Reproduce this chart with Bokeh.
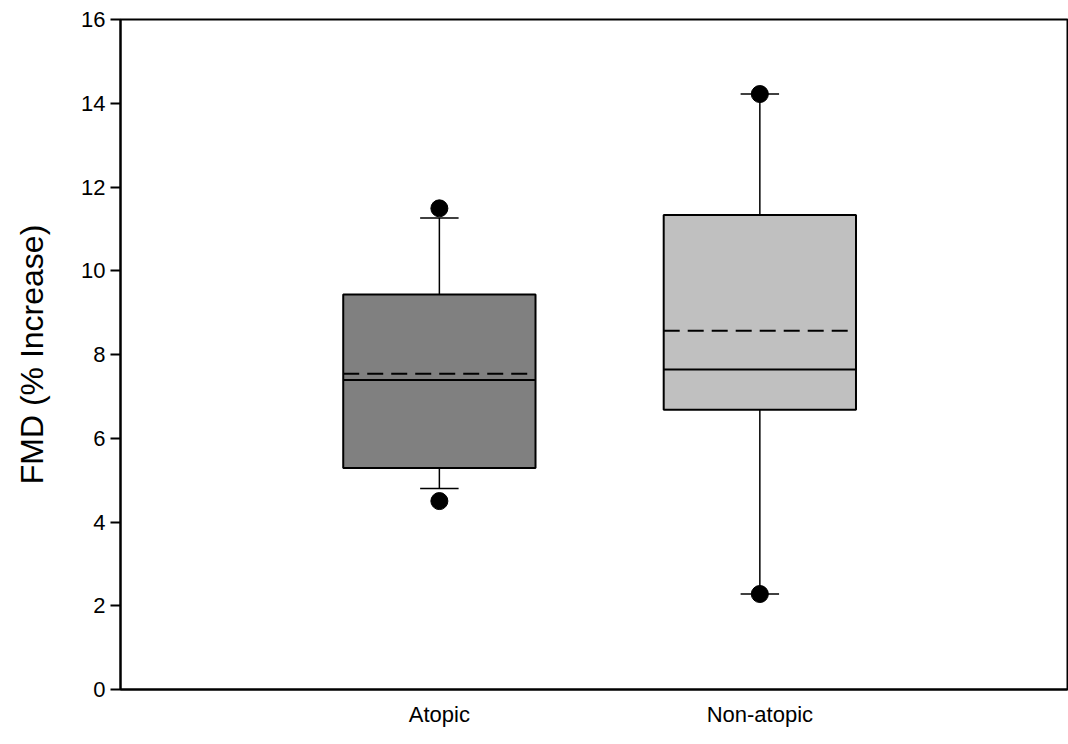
from bokeh.plotting import figure
from bokeh.models import ColumnDataSource, FixedTicker, Range1d
from bokeh.embed import file_html
from bokeh.resources import INLINE

# ---- data ----
groups = ["Atopic", "Non-atopic"]
positions = [1, 2]
q1 = [5.29, 6.68]
q3 = [9.43, 11.33]
median = [7.39, 7.64]
mean = [7.54, 8.57]
whisker_low = [4.80, 2.28]
whisker_high = [11.26, 14.22]
outlier_pos = [1, 1, 2, 2]
outlier_val = [11.49, 4.50, 14.22, 2.28]
fills = ["#808080", "#C0C0C0"]
y_ticks = [0, 2, 4, 6, 8, 10, 12, 14, 16]

BOX_W = 0.6
CAP_W = 0.12
FONT = "Liberation Sans"

src = ColumnDataSource(dict(
    x=positions,
    left=[p - BOX_W / 2 for p in positions],
    right=[p + BOX_W / 2 for p in positions],
    cap_l=[p - CAP_W / 2 for p in positions],
    cap_r=[p + CAP_W / 2 for p in positions],
    q1=q1, q3=q3, median=median, mean=mean,
    wlo=whisker_low, whi=whisker_high, fill=fills,
))
out_src = ColumnDataSource(dict(x=outlier_pos, y=outlier_val))

p = figure(
    width=1068, height=736,
    x_range=Range1d(0.005, 2.96), y_range=Range1d(0, 16),
    output_backend="svg", toolbar_location=None,
    min_border_left=120, min_border_right=1,
    min_border_top=19, min_border_bottom=47,
)
p.xgrid.visible = False
p.ygrid.visible = False
p.outline_line_color = "black"
p.outline_line_width = 2
p.outline_line_alpha = 1.0
p.background_fill_color = "white"
p.border_fill_color = "white"

# whiskers
p.segment(x0="x", y0="q3", x1="x", y1="whi", source=src, line_color="black", line_width=1.5)
p.segment(x0="x", y0="q1", x1="x", y1="wlo", source=src, line_color="black", line_width=1.5)
# caps
p.segment(x0="cap_l", y0="whi", x1="cap_r", y1="whi", source=src, line_color="black", line_width=1.5)
p.segment(x0="cap_l", y0="wlo", x1="cap_r", y1="wlo", source=src, line_color="black", line_width=1.5)
# boxes
p.quad(left="left", right="right", bottom="q1", top="q3", source=src,
       fill_color="fill", line_color="black", line_width=2)
# median and mean
p.segment(x0="left", y0="median", x1="right", y1="median", source=src,
          line_color="black", line_width=2)
p.segment(x0="left", y0="mean", x1="right", y1="mean", source=src,
          line_color="black", line_width=2, line_dash="16 8")
# outliers
p.scatter(x="x", y="y", source=out_src, size=17, marker="circle",
          fill_color="black", line_color="black")

# y axis
ya = p.yaxis[0]
ya.ticker = FixedTicker(ticks=y_ticks)
ya.axis_label = "FMD (% Increase)"
ya.axis_label_text_font = FONT
ya.axis_label_text_font_size = "32px"
ya.axis_label_text_font_style = "normal"
ya.axis_label_text_color = "black"
ya.axis_label_standoff = 28
ya.major_label_text_font = FONT
ya.major_label_text_font_size = "22px"
ya.major_label_text_color = "black"
ya.major_label_standoff = 5
ya.major_tick_out = 10
ya.major_tick_in = 0
ya.major_tick_line_width = 2
ya.major_tick_line_color = "black"
ya.minor_tick_line_color = None
ya.axis_line_width = 2
ya.axis_line_color = "black"

# x axis
xa = p.xaxis[0]
xa.ticker = FixedTicker(ticks=positions)
xa.major_label_overrides = {pos: g for pos, g in zip(positions, groups)}
xa.major_label_text_font = FONT
xa.major_label_text_font_size = "22px"
xa.major_label_text_color = "black"
xa.major_label_standoff = 12
xa.major_tick_line_color = None
xa.major_tick_out = 0
xa.major_tick_in = 0
xa.minor_tick_line_color = None
xa.axis_line_width = 2
xa.axis_line_color = "black"

open("out.html", "w").write(file_html(p, INLINE))
